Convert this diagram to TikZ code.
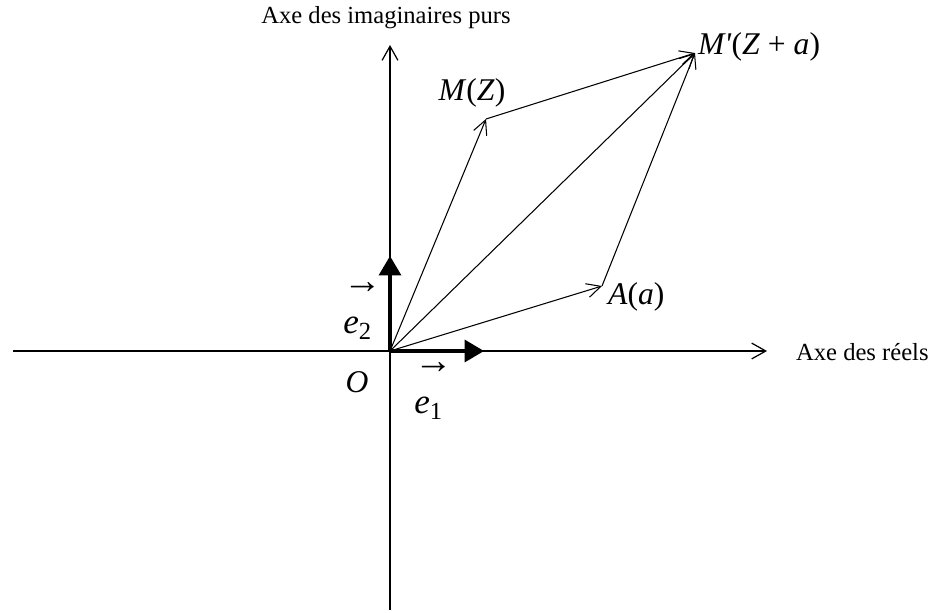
\documentclass[tikz,border=0pt]{standalone}
\usepackage{fontspec}
\setmainfont{Liberation Serif}
\usepackage{graphicx}
\usepackage{tikz}
\usetikzlibrary{arrows.meta,positioning}

\newcommand{\unitarrow}{\resizebox{22pt}{!}{→}}

\begin{document}
\begin{tikzpicture}[x=0.02cm, y=-0.02cm,
    axis/.style={line width=0.7pt, -{Straight Barb[length=8pt, width=9pt, line width=0.7pt]}},
    vec/.style={line width=0.6pt, -{Straight Barb[length=8pt, width=8pt, line width=0.6pt]}},
    base/.style={line width=1.8pt, -{Triangle[length=11pt, width=12.5pt]}},
    lbl/.style={font=\fontsize{18}{20}\selectfont, inner sep=1pt},
    unit/.style={font=\fontsize{20}{23}\selectfont, inner sep=0pt, align=left},
    axlbl/.style={font=\fontsize{14}{16}\selectfont, inner sep=1pt}
  ]
    \useasboundingbox (0,0) rectangle (932,612);
    % points
    \coordinate (O) at (390,351);
    \coordinate (M) at (486,119);
    \coordinate (A) at (602,286);
    \coordinate (Mp) at (695,53);
    \coordinate (xl) at (13,351);
    \coordinate (xr) at (767,351);
    \coordinate (yb) at (390,610);
    \coordinate (yt) at (390,45);
    \coordinate (e1) at (484,351);
    \coordinate (e2) at (390,256);
    % axes
    \draw[axis] (xl) -- (xr);
    \draw[axis] (yb) -- (yt);
    \node[axlbl, anchor=west] (reel) at (794,352) {Axe des réels};
    \node[axlbl] (imag) at (386,18) {Axe des imaginaires purs};
    % base vectors
    \draw[base] (O) -- (e1);
    \draw[base] (O) -- (e2);
    % sum of vectors
    \draw[vec] (O) -- (M);
    \draw[vec] (O) -- (A);
    \draw[vec] (O) -- (Mp);
    \draw[vec] (M) -- (Mp);
    \draw[vec] (A) -- (Mp);
    % labels
    \node[lbl] (lO) at (357,382) {\textit{O}};
    \node[lbl] (lM) at (472,93) {\textit{M}(\textit{Z})};
    \node[lbl, anchor=west] (lMp) at (696,47) {\textit{M\textquotesingle}(\textit{Z} + \textit{a})};
    \node[lbl, anchor=west] (lA) at (606,297) {\textit{A}(\textit{a})};
    \node[unit, anchor=north west] (le2) at (343,282) {\unitarrow\\\textit{e}\textsubscript{2}};
    \node[unit, anchor=north west] (le1) at (414,362) {\unitarrow\\\textit{e}\textsubscript{1}};
  \end{tikzpicture}
\end{document}
